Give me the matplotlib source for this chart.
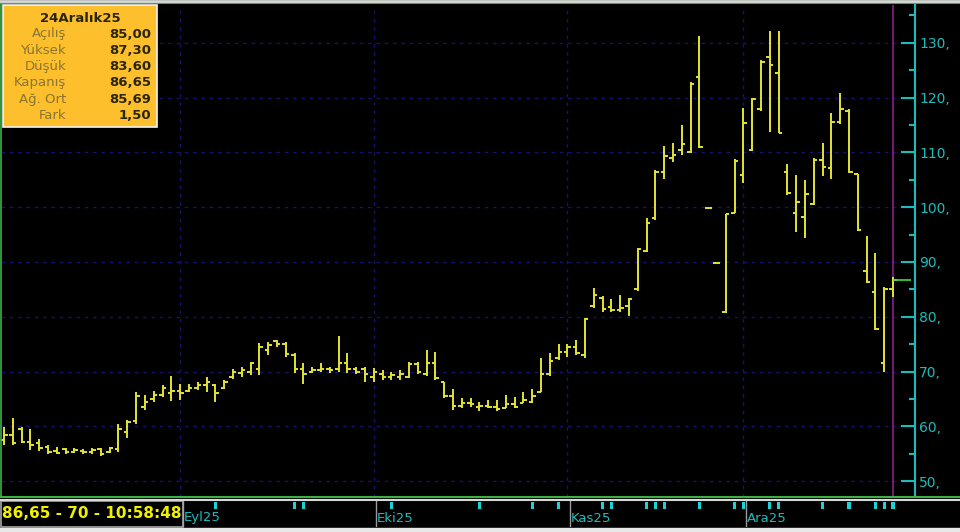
import matplotlib

matplotlib.use("Agg")
import matplotlib.pyplot as plt
from matplotlib.patches import Rectangle
from matplotlib.lines import Line2D
from matplotlib.ticker import MultipleLocator, FuncFormatter
import numpy as np

# --------------------------------------------------------------------------- #
# Data (daily OHLC, Aug -> 24 Dec 2025)
# --------------------------------------------------------------------------- #
opens = [57.5, 58.5, 59.5, 57.2, 57.0, 56.3, 55.5, 55.8, 55.3, 55.5,
         55.3, 55.8, 55.3, 55.8, 59.0, 61.0, 63.5, 65.0, 65.8, 66.0,
         66.5, 66.5, 67.0, 67.5, 67.5, 67.0, 69.0, 69.8, 70.0, 70.5,
         74.0, 75.5, 75.0, 73.0, 70.5, 70.0, 70.2, 70.5, 70.5, 71.5,
         70.5, 70.5, 69.0, 69.5, 69.0, 69.0, 69.0, 71.3, 69.5, 71.5,
         68.0, 65.5, 63.8, 64.2, 63.5, 63.8, 63.5, 63.3, 64.0, 64.3,
         64.5, 66.3, 69.5, 72.5, 73.5, 74.5, 73.0, 82.0, 83.5, 81.8,
         81.2, 82.0, 85.0, 92.0, 98.0, 106.5, 109.0, 110.5, 110.0, 123.8,
         99.9, 89.9, 80.9, 99.0, 105.9, 110.5, 118.0, 127.5, 124.5, 106.5,
         99.0, 98.2, 100.6, 108.7, 107.2, 115.5, 117.5, 106.0, 88.3, 84.6,
         71.6, 85.00]
highs = [59.8, 61.6, 59.8, 59.5, 57.6, 56.5, 56.2, 56.0, 56.0, 55.8,
         56.0, 56.0, 56.3, 60.4, 61.1, 66.3, 65.7, 66.5, 67.5, 69.2,
         67.8, 67.8, 68.1, 69.0, 67.8, 68.4, 70.5, 70.8, 71.7, 75.2,
         75.4, 75.8, 75.4, 73.3, 71.5, 70.9, 71.6, 70.9, 76.4, 73.3,
         70.9, 70.9, 70.6, 70.3, 70.0, 70.3, 71.8, 71.8, 73.9, 73.6,
         68.1, 66.8, 65.1, 65.1, 64.5, 64.8, 64.8, 65.7, 65.4, 66.2,
         66.8, 72.4, 73.3, 75.1, 75.1, 75.7, 79.8, 85.3, 83.8, 83.3,
         84.0, 83.4, 92.5, 98.0, 106.8, 111.2, 111.8, 115.0, 122.9, 131.3,
         99.9, 89.9, 98.8, 108.8, 118.1, 120.0, 126.8, 132.1, 132.1, 107.9,
         105.9, 105.0, 109.0, 111.8, 117.2, 120.9, 117.9, 106.1, 94.7, 91.6,
         85.5, 87.30]
lows = [56.6, 56.5, 57.0, 55.7, 55.5, 55.0, 54.9, 55.0, 55.1, 55.0,
        54.9, 54.6, 55.1, 55.3, 57.8, 60.5, 63.0, 64.5, 65.4, 64.7,
        64.8, 66.3, 66.6, 66.3, 64.5, 66.9, 68.7, 69.0, 69.3, 69.3,
        73.0, 74.5, 72.7, 69.7, 67.8, 69.7, 69.9, 69.7, 70.0, 69.7,
        69.5, 68.1, 68.1, 68.4, 68.4, 68.4, 68.8, 69.5, 69.2, 68.4,
        65.1, 63.0, 63.3, 63.6, 62.8, 63.3, 62.8, 63.3, 63.3, 64.2,
        64.2, 66.2, 69.2, 72.1, 72.7, 73.0, 72.5, 81.6, 80.8, 80.9,
        80.8, 80.1, 84.7, 91.9, 97.7, 105.2, 108.3, 109.5, 109.8, 110.8,
        99.9, 89.9, 80.7, 99.0, 104.4, 110.3, 117.6, 113.8, 113.5, 102.2,
        95.4, 94.4, 100.4, 105.6, 105.2, 115.2, 106.3, 95.7, 86.2, 77.6,
        69.9, 83.60]
closes = [58.5, 57.0, 57.2, 56.5, 56.0, 55.4, 55.2, 55.3, 55.6, 55.3,
          55.6, 55.0, 56.0, 59.5, 60.8, 65.5, 64.5, 65.8, 67.0, 66.5,
          66.0, 67.0, 67.5, 68.0, 66.0, 68.0, 70.0, 70.3, 71.5, 74.5,
          74.8, 75.0, 73.2, 70.5, 69.5, 70.3, 70.5, 70.3, 71.5, 70.5,
          70.0, 69.5, 70.0, 69.0, 69.3, 69.5, 71.3, 70.0, 71.5, 68.8,
          65.6, 63.8, 64.2, 64.0, 63.8, 63.5, 63.2, 64.0, 63.6, 64.8,
          65.5, 69.5, 72.0, 73.5, 74.5, 73.3, 79.5, 84.0, 81.5, 81.3,
          81.6, 83.3, 92.3, 97.2, 106.5, 109.3, 109.5, 111.5, 122.5, 111.0,
          99.9, 89.9, 98.7, 108.5, 115.4, 119.8, 126.5, 126.0, 113.6, 102.5,
          101.0, 102.4, 108.7, 107.4, 115.5, 117.9, 106.5, 95.8, 86.3, 77.7,
          85.15, 86.65]

month_starts = [20, 42, 64, 84]
month_labels = ["Eyl25", "Eki25", "Kas25", "Ara25"]
event_days = [4, 5, 10, 14, 24, 33, 34, 44, 54, 60, 63, 68, 69, 73, 74, 75,
              79, 83, 84, 87, 88, 93, 96, 99, 100, 101]
price_ticks = [50, 60, 70, 80, 90, 100, 110, 120, 130]

info_title = "24Aralık25"
info_labels = ["Açılış", "Yüksek", "Düşük", "Kapanış", "Ağ. Ort", "Fark"]
info_values = ["85,00", "87,30", "83,60", "86,65", "85,69", "1,50"]
status_text = "86,65 - 70 - 10:58:48"

# --------------------------------------------------------------------------- #
# Styling
# --------------------------------------------------------------------------- #
W, H = 960, 532
BAR = "#e4e432"
AXIS = "#1cbcbc"
GRID = "#14146e"
FRAME = "#3cb043"


def fx(px):
    return px / W


def fy(py):
    return 1 - py / H


fig = plt.figure(figsize=(W / 100, H / 100), dpi=100, facecolor="black")

# main price panel
ax = fig.add_axes([fx(1), fy(497), fx(914), (497 - 5) / H], facecolor="black")
x = np.arange(len(closes))
o, h, l, c = map(np.asarray, (opens, highs, lows, closes))
ax.vlines(x, l, h, color=BAR, lw=1.4)
ax.hlines(o, x - 0.4, x, color=BAR, lw=1.4)
ax.hlines(c, x, x + 0.4, color=BAR, lw=1.4)

for v in price_ticks:
    ax.axhline(v, color=GRID, lw=1.0, ls=(0, (2.5, 3.5)), zorder=0)
for m in month_starts:
    ax.axvline(m, color=GRID, lw=1.0, ls=(0, (2.5, 3.5)), zorder=0)

# current day marker + last price line
ax.axvline(x[-1], color="#8a1f8a", lw=1.2, zorder=0)
ax.hlines(c[-1], x[-1], x[-1] + 2.0, color="#3cdc3c", lw=1.2)

ax.set_xlim(-0.35, 103.5)
ax.set_ylim(47.1, 136.9)
for side in ("top", "left", "bottom"):
    ax.spines[side].set_visible(False)
ax.spines["right"].set_color(AXIS)
ax.spines["right"].set_linewidth(1.5)
ax.set_xticks([])
ax.yaxis.tick_right()
ax.yaxis.set_major_locator(MultipleLocator(10))
ax.yaxis.set_minor_locator(MultipleLocator(5))
ax.yaxis.set_major_formatter(FuncFormatter(lambda v, _: f"{v:.0f},"))
ax.tick_params(axis="y", which="major", direction="in", length=10, width=1.5,
               color=AXIS, labelcolor=AXIS, labelsize=10, pad=3)
ax.tick_params(axis="y", which="minor", direction="in", length=4, width=1.5,
               color=AXIS)

# date strip
ax2 = fig.add_axes([fx(1), fy(527), fx(914), 27 / H], facecolor="black")
ax2.set_xlim(ax.get_xlim())
ax2.set_ylim(0, 27)
ax2.axis("off")
ax2.bar(event_days, 7, bottom=18, width=0.35, color="#18d4d4")
for m, lab in zip(month_starts, month_labels):
    ax2.vlines(m + 0.3, 0, 27, color="#9a9a9a", lw=1.0)
    ax2.text(m + 0.4, 9, lab, color=AXIS, fontsize=9.5, ha="left", va="center")

# window frame lines
fig.add_artist(Line2D([0, 1], [fy(3), fy(3)], color=FRAME, lw=1.5))
fig.add_artist(Line2D([0, 1], [fy(497), fy(497)], color=FRAME, lw=1.5))
fig.add_artist(Line2D([0, 1], [fy(499.5), fy(499.5)], color="#d8d8d8", lw=1.5))
fig.add_artist(Line2D([fx(0.5), fx(0.5)], [fy(3), fy(497)], color=FRAME, lw=1.2))
fig.add_artist(Rectangle((0, 0), 1, fy(528), transform=fig.transFigure,
                         color="#e8e8e8"))
fig.add_artist(Line2D([0, 1], [fy(1), fy(1)], color="#d8d8d8", lw=2))

# info box (top-left)
fig.add_artist(Rectangle((fx(3), fy(127)), fx(154), 122 / H,
                         transform=fig.transFigure, facecolor="#fdc02c",
                         edgecolor="#f4f4f4", lw=1.2))
fig.text(fx(80), fy(18), info_title, ha="center", va="center", fontsize=9.5,
         fontweight="bold", color="#2a2408")
for k, (lab, val) in enumerate(zip(info_labels, info_values)):
    yy = fy(34 + k * 16.3)
    fig.text(fx(66), yy, lab, ha="right", va="center", fontsize=9.5,
             color="#8a7430")
    fig.text(fx(151), yy, val, ha="right", va="center", fontsize=9.5,
             fontweight="bold", color="#2a2408")

# status box (bottom-left)
fig.add_artist(Rectangle((fx(0.5), fy(527)), fx(182), 26 / H,
                         transform=fig.transFigure, facecolor="black",
                         edgecolor="#a8a8a8", lw=1.2))
fig.text(fx(2), fy(514), status_text, ha="left", va="center", fontsize=11,
         fontweight="bold", color="#f0f000")

fig.savefig("out.png", dpi=100, facecolor="black")
